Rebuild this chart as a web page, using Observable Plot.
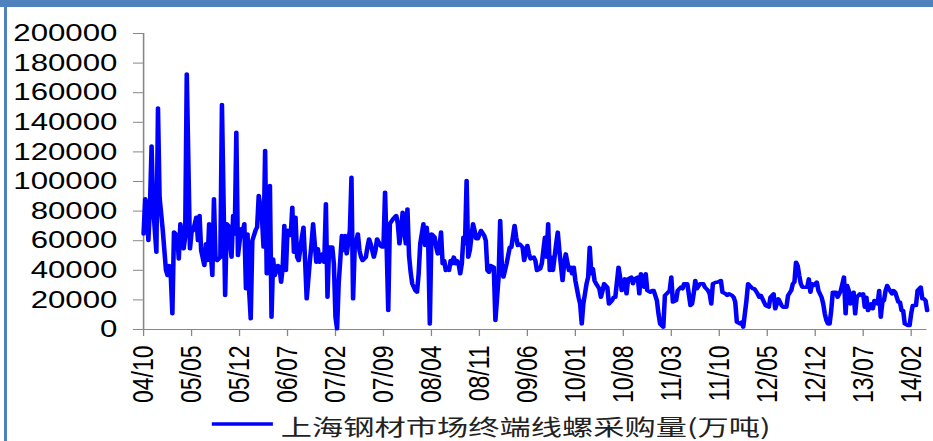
<!DOCTYPE html>
<html><head><meta charset="utf-8">
<script src="https://cdn.jsdelivr.net/npm/d3@7"></script>
<script src="https://cdn.jsdelivr.net/npm/@observablehq/plot@0.6"></script>
<style>
html,body{margin:0;padding:0;background:#fff;}
#wrap{position:relative;width:933px;height:441px;overflow:hidden;background:#fff;}
#topbar{position:absolute;left:0;top:0;width:933px;height:7px;background:#4F81BD;}
#leftbar{position:absolute;left:4px;top:0;width:3px;height:441px;background:#4F81BD;}
#chart svg{display:block;}
</style></head><body>
<div id="wrap"><div id="chart"></div><div id="topbar"></div><div id="leftbar"></div></div>
<script>
const seriesName = "上海钢材市场终端线螺采购量(万吨)";
const tickLabels = ["04/10","05/05","05/12","06/07","07/02","07/09","08/04","08/11","09/06","10/01","10/08","11/03","11/10","12/05","12/12","13/07","14/02"];
const tickWeeks = [0,30,60,90,120,150,180,210,240,270,300,330,360,390,420,450,480];
const yTicks = [0,20000,40000,60000,80000,100000,120000,140000,160000,180000,200000];

const weeks = [
0,1,2,3,4,5,6,8,9,10,11,12,14,15,16,17,18,19,21,22,23,25,26,27,29,30,31,33,34,35,36,38,39,40,41,42,43,44,45,46,48,49,51,52,53,55,56,57,58,59,61,62,63,64,65,66,67,68,70,71,72,74,75,76,77,79,80,81,82,84,85,86,87,88,89,90,92,93,94,95,96,97,99,100,101,102,104,105,106,108,109,110,112,113,114,115,116,118,119,120,121,122,124,125,126,127,129,130,131,132,134,135,136,137,139,140,141,142,144,145,146,148,149,150,151,152,153,154,156,157,158,159,160,161,162,163,164,165,166,167,
168,169,170,171,172,173,175,176,177,178,179,180,182,183,184,185,186,187,188,189,190,191,192,193,194,195,196,197,198,199,200,201,202,203,204,206,207,208,209,211,213,214,215,216,217,219,220,222,223,224,225,227,229,230,232,233,234,235,237,238,240,241,242,244,245,246,248,249,251,252,253,254,255,256,258,259,260,262,263,264,266,267,268,269,270,272,273,274,275,277,278,279,280,281,282,283,285,286,287,288,290,291,293,294,295,297,298,299,301,302,303,305,306,307,309,310,311,313,314,315,317,318,319,321,322,323,325,326,328,329,330,331,333,334,336,
337,338,340,342,343,344,345,346,348,350,351,353,354,355,356,358,359,361,362,364,365,366,368,369,370,371,373,374,375,377,378,379,381,382,384,385,386,388,389,391,392,394,395,397,398,399,400,402,403,405,406,407,408,409,410,411,412,413,415,416,417,418,419,421,422,424,425,426,427,428,429,430,431,433,434,436,437,438,439,440,441,442,444,445,446,448,449,450,451,452,453,455,456,457,459,460,461,462,463,464,465,466,468,469,470,472,473,474,475,476,478,479,480,481,483,484,485,486,487,488,489,490
];
const purchase = [
64600,88300,85000,60100,83800,124000,82600,52200,149700,89400,78100,66900,39900,36500,43200,36500,10600,65800,63500,47700,71400,54500,62300,172700,54500,65800,66900,75900,60100,77000,53400,43200,57900,46600,71400,52200,36500,88300,47700,46600,48900,152000,23000,71400,70300,48900,77000,64600,133300,50000,68000,65800,71400,27500,64600,26400,7200,60100,66900,69100,90500,75900,55700,121000,37600,97300,8300,47700,36500,43200,42000,32000,42000,70300,39900,67000,63500,82600,52200,75900,48900,46600,62300,69100,46600,20700,46600,57900,71400,45500,54500,45500,51100,45500,84900,21800,55700,55700,44300,8300,500,30900,63500,53400,63500,51100,66900,102900,20700,54500,64600,53400,48900,46600,48900,55700,61200,57900,48900,53400,61200,56800,55700,55700,92800,55700,12800,71400,74700,75900,77000,71400,57900,66900,79200,66900,57900,81500,50000,38800,
30900,28600,26300,25200,37600,57900,71400,56800,69100,57900,3800,64600,62400,55600,51100,55600,65800,44400,46600,39900,41000,39900,46600,44400,48900,44400,46600,44400,37600,44400,62400,57900,100700,48900,53400,71400,66900,61300,61300,66900,63500,60100,39900,38700,43200,42100,6100,35400,73600,44400,35400,44400,55600,55600,70300,62400,56800,57900,55600,46600,56800,51100,47700,48900,46600,39900,41000,44400,62400,48900,71400,39900,48900,39900,57900,65800,53400,33100,44400,51100,39900,42100,37600,42100,33100,21800,17300,3800,17300,30900,35400,55600,37600,41000,33100,30900,27500,21800,26300,30900,28600,17300,19600,21800,21800,42100,35400,26300,34200,24100,34200,35400,30900,34200,35400,24100,37600,28600,37600,26300,25200,26300,26300,19600,10600,3800,1600,23000,25200,26300,35400,18500,19600,26300,28600,
27500,30900,30900,16200,17300,24100,33100,27500,30900,30900,28600,26300,24100,17300,30900,32000,32000,33100,25200,24100,23000,24100,23000,21800,18500,5000,3800,5000,1600,19600,30900,29700,27500,27500,24100,21800,23000,18500,16200,15100,21800,24100,14000,20700,18500,16200,15100,15100,23000,26300,30900,32000,45500,43200,36500,30900,28600,28600,28600,34200,25200,30900,29700,32000,26300,21800,17300,10600,6100,3800,3800,12800,25200,25200,21800,26300,30900,35400,10600,29700,26300,17300,25200,10600,21800,24100,23000,24100,15100,21800,12800,17300,14000,19600,17300,26300,8300,18500,19600,26300,29700,27500,24100,26300,25200,18500,18500,12800,12800,3800,2700,2700,10600,16200,16200,26300,27500,28600,20700,20700,19600,12800
];

const data = weeks.map((w, i) => ({week: w, value: purchase[i]}));
const labelOf = new Map(tickWeeks.map((w, i) => [w, tickLabels[i]]));

const W = 718, H = 441;
const axisGrey = "#878787";
const svg = Plot.plot({
  width: W, height: H,
  marginTop: 33, marginBottom: 112, marginLeft: 110, marginRight: 5,
  style: {fontFamily: "'Liberation Sans', Arial, sans-serif", background: "transparent", color: "#000"},
  x: {domain: [0, 490], label: null},
  y: {domain: [0, 200000], label: null},
  marks: [
    Plot.axisY({ticks: yTicks, tickFormat: d => String(d), tickSize: 7.7, tickPadding: 12.5, fontSize: 24, stroke: axisGrey, fill: "#000", label: null}),
    Plot.axisX({ticks: tickWeeks, tickFormat: d => labelOf.get(d), tickRotate: -90, tickSize: 7, tickPadding: 9, fontSize: 23, stroke: axisGrey, fill: "#000", label: null}),
    Plot.ruleX([0], {stroke: axisGrey, strokeWidth: 1.2}),
    Plot.ruleY([0], {stroke: axisGrey, strokeWidth: 1.2}),
    Plot.line(data, {x: "week", y: "value", stroke: "#0000FF", strokeWidth: 3.5, strokeLinejoin: "round", strokeLinecap: "round"})
  ]
});

svg.setAttribute("width", 933);
svg.setAttribute("preserveAspectRatio", "none");
svg.style.width = "933px";
svg.style.height = "441px";
svg.style.maxWidth = "none";

const lg = d3.select(svg).append("g");
lg.append("line").attr("x1", 163).attr("x2", 210).attr("y1", 424).attr("y2", 424)
  .attr("stroke", "#0000FF").attr("stroke-width", 3.3);
lg.append("text").attr("x", 216).attr("y", 425)
  .attr("text-anchor", "start")
  .attr("dominant-baseline", "central")
  .attr("font-family", "'Noto Sans CJK SC', sans-serif")
  .attr("font-size", 22).attr("fill", "#222")
  .attr("textLength", 377).attr("lengthAdjust", "spacingAndGlyphs")
  .text(seriesName);

document.getElementById("chart").appendChild(svg);
</script></body></html>
